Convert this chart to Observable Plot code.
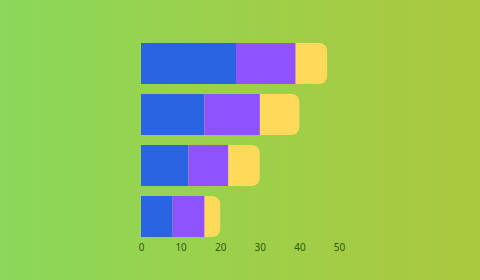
<!DOCTYPE html>
<html>
<head>
<meta charset="utf-8">
<script src="https://cdn.jsdelivr.net/npm/d3@7"></script>
<script src="https://cdn.jsdelivr.net/npm/@observablehq/plot@0.6"></script>
<style>
  html, body { margin: 0; padding: 0; }
  body { width: 480px; height: 280px; overflow: hidden;
         background: linear-gradient(90deg, #8bd85a 0%, #9dd04a 50%, #aac83e 100%); }
  #chart svg { display: block; background: transparent; }
</style>
</head>
<body>
<div id="chart"></div>
<script>
const categories = ["A", "B", "C", "D"];
const blueValues = [24, 16, 12, 8];
const purpleValues = [15, 14, 10, 8];
const yellowValues = [8, 10, 8, 4];
const xTicks = [0, 10, 20, 30, 40, 50];

const rows = categories.map((c, i) => ({
  cat: c,
  b0: 0, b1: blueValues[i],
  p0: blueValues[i], p1: blueValues[i] + purpleValues[i],
  total: blueValues[i] + purpleValues[i] + yellowValues[i]
}));

const chart = Plot.plot({
  width: 480,
  height: 280,
  marginLeft: 141,
  marginRight: 141,
  marginTop: 41,
  marginBottom: 41,
  style: { background: "transparent", fontFamily: "'Noto Sans', sans-serif", fontSize: "10px", color: "#2f5a12" },
  x: { domain: [0, 50], ticks: xTicks, tickSize: 0, tickPadding: 4, label: null },
  y: { domain: categories, axis: null, paddingInner: 0.19, paddingOuter: 0 },
  marks: [
    Plot.barX(rows, { y: "cat", x1: 0, x2: "total", fill: "#ffd95a", rx: 8, inset: 0 }),
    Plot.barX(rows, { y: "cat", x1: "b0", x2: "b1", fill: "#2a64e2", inset: 0 }),
    Plot.barX(rows, { y: "cat", x1: "p0", x2: "p1", fill: "#8e52ff", inset: 0 })
  ]
});
document.getElementById("chart").appendChild(chart);
</script>
</body>
</html>
